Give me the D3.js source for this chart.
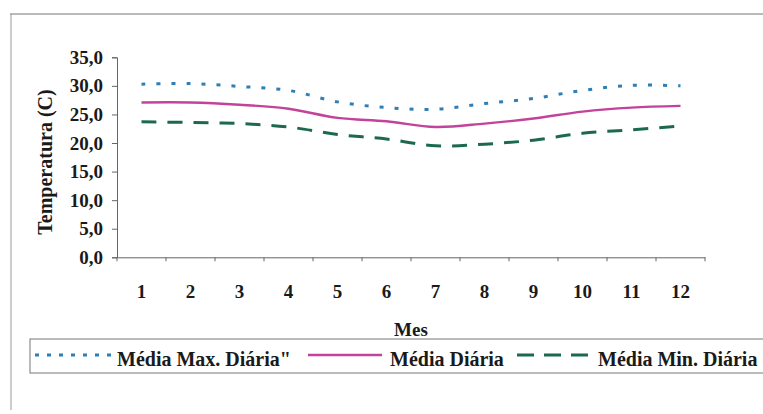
<!DOCTYPE html>
<html>
<head>
<meta charset="utf-8">
<script src="https://cdn.jsdelivr.net/npm/d3@7"></script>
<style>
  html, body { margin: 0; padding: 0; background: #fff; }
  svg { display: block; }
  svg text { font-family: 'Liberation Serif', 'DejaVu Serif', 'Noto Serif', serif !important; font-weight: 700; fill: #1a1a1a; }
</style>
</head>
<body>
<script>
// Monthly temperature means (°C)
const months = [1, 2, 3, 4, 5, 6, 7, 8, 9, 10, 11, 12];
const mediaMax = [30.3, 30.4, 29.9, 29.2, 27.2, 26.2, 25.9, 26.9, 27.8, 29.2, 30.1, 30.0];
const mediaDiaria = [27.1, 27.1, 26.7, 26.0, 24.4, 23.8, 22.8, 23.4, 24.3, 25.5, 26.2, 26.5];
const mediaMin = [23.7, 23.6, 23.4, 22.8, 21.5, 20.7, 19.5, 19.8, 20.5, 21.7, 22.3, 23.0];
const yTicks = [0, 5, 10, 15, 20, 25, 30, 35];
const legendLabels = ["Média Max. Diária\"", "Média Diária", "Média Min. Diária"];

const W = 763, H = 414;
const FONT = "'Liberation Serif', 'DejaVu Serif', serif";
const svg = d3.select("body").append("svg").attr("width", W).attr("height", H)
  .attr("font-family", FONT);

// Outer chart frame (top and left edges)
svg.append("line").attr("x1", 10).attr("x2", W).attr("y1", 14).attr("y2", 14)
  .attr("stroke", "#777").attr("stroke-width", 1.2);
svg.append("line").attr("x1", 11).attr("x2", 11).attr("y1", 14).attr("y2", 410)
  .attr("stroke", "#999").attr("stroke-width", 1);

const plot = { left: 117, right: 705, top: 57.3, bottom: 257.3 };

const x = d3.scaleBand().domain(months).range([plot.left, plot.right]);
const y = d3.scaleLinear().domain([0, 35]).range([plot.bottom, plot.top]);
const fmt = v => d3.format(".1f")(v).replace(".", ",");

// Y axis
const yAxis = svg.append("g").attr("transform", `translate(${plot.left},0)`)
  .call(d3.axisLeft(y).tickValues(yTicks).tickSize(5).tickPadding(9).tickFormat(fmt))
  .attr("font-family", FONT).attr("font-size", 19);
yAxis.select(".domain").attr("stroke", "#666");
yAxis.selectAll(".tick line").attr("stroke", "#666");
yAxis.selectAll("text").attr("fill", "#1a1a1a");

// X axis (ticks on category boundaries)
const xAxis = svg.append("g").attr("transform", `translate(0,${plot.bottom})`)
  .call(d3.axisBottom(x).tickSize(0).tickPadding(27))
  .attr("font-family", FONT).attr("font-size", 19);
xAxis.select(".domain").attr("stroke", "#666");
xAxis.selectAll("text").attr("fill", "#1a1a1a");
const bounds = months.map(m => x(m)).concat([x(months[months.length - 1]) + x.bandwidth()]);
xAxis.selectAll(".bound").data(bounds).join("line").attr("class", "bound")
  .attr("x1", d => d).attr("x2", d => d).attr("y1", 0).attr("y2", 4)
  .attr("stroke", "#666");

// Axis titles
svg.append("text").attr("transform", "translate(52,162) rotate(-90)")
  .attr("text-anchor", "middle").attr("font-size", 20).text("Temperatura (C)");
svg.append("text").attr("x", (plot.left + plot.right) / 2).attr("y", 336)
  .attr("text-anchor", "middle").attr("font-size", 19).text("Mes");

// Series lines
const cx = m => x(m) + x.bandwidth() / 2;
const series = [
  { values: mediaMax, color: "#2f7fb5", width: 3, dash: "4,11" },
  { values: mediaDiaria, color: "#c4439a", width: 2.4, dash: null },
  { values: mediaMin, color: "#1c6a4e", width: 3, dash: "15,11" }
];
const line = d3.line().x((d, i) => cx(months[i])).y(d => y(d)).curve(d3.curveCatmullRom.alpha(0.5));
series.forEach(s => {
  svg.append("path").datum(s.values).attr("d", line)
    .attr("fill", "none").attr("stroke", s.color).attr("stroke-width", s.width)
    .attr("stroke-dasharray", s.dash);
});

// Legend
const lg = svg.append("g");
lg.append("rect").attr("x", 30).attr("y", 339).attr("width", 740).attr("height", 34)
  .attr("fill", "#fff").attr("stroke", "#777").attr("stroke-width", 1);
const legendItems = [
  { x1: 35, x2: 115, tx: 117, s: series[0], dash: "4,8" },
  { x1: 308, x2: 382, tx: 390, s: series[1], dash: null },
  { x1: 517, x2: 588, tx: 598, s: series[2], dash: "17,10" }
];
legendItems.forEach((it, i) => {
  lg.append("line").attr("x1", it.x1).attr("x2", it.x2).attr("y1", 355).attr("y2", 355)
    .attr("stroke", it.s.color).attr("stroke-width", it.s.width).attr("stroke-dasharray", it.dash);
  lg.append("text").attr("x", it.tx).attr("y", 366).attr("font-size", 20).text(legendLabels[i]);
});
</script>
</body>
</html>
